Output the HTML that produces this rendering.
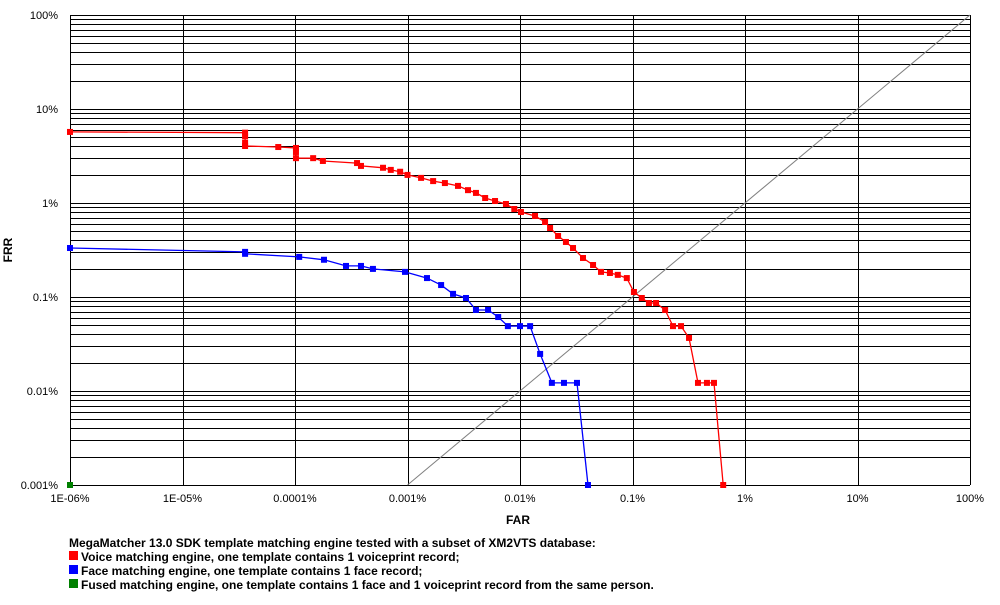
<!DOCTYPE html>
<html><head><meta charset="utf-8"><style>
body{margin:0;background:#fff;}
svg text{font-family:"Liberation Sans",Arial,sans-serif;}
</style></head><body>
<svg id="chart" width="1000" height="600" xmlns="http://www.w3.org/2000/svg">
<g id="grid"></g>
<line id="diag" stroke="#808080" stroke-width="1"/>
<g id="series"></g>
<g id="ticks"></g>
<text x="12" y="250" font-size="12" font-weight="bold" text-anchor="middle" transform="rotate(-90 12 250)">FRR</text>
<text x="518" y="524" font-size="12" font-weight="bold" text-anchor="middle">FAR</text>
<g font-size="12" font-weight="bold">
<text x="69" y="547">MegaMatcher 13.0 SDK template matching engine tested with a subset of XM2VTS database:</text>
<rect x="69" y="551" width="9" height="9" fill="#ff0000"/>
<text x="81" y="561">Voice matching engine, one template contains 1 voiceprint record;</text>
<rect x="69" y="565" width="9" height="9" fill="#0000ff"/>
<text x="81" y="575">Face matching engine, one template contains 1 face record;</text>
<rect x="69" y="579" width="9" height="9" fill="#008000"/>
<text x="81" y="589">Fused matching engine, one template contains 1 face and 1 voiceprint record from the same person.</text>
</g>
</svg>
<script>
const xTicks=["1E-06%","1E-05%","0.0001%","0.001%","0.01%","0.1%","1%","10%","100%"];
const yTicks=["100%","10%","1%","0.1%","0.01%","0.001%"];
const voiceFAR=[1e-6,3.6e-5,3.6e-5,3.6e-5,3.6e-5,7.1e-5,1.02e-4,1.02e-4,1.02e-4,1.45e-4,1.77e-4,3.56e-4,3.86e-4,6.06e-4,7.1e-4,8.6e-4,1e-3,1.32e-3,1.69e-3,2.15e-3,2.81e-3,3.45e-3,4.06e-3,4.9e-3,6e-3,7.5e-3,8.9e-3,1.02e-2,1.36e-2,1.67e-2,1.85e-2,2.18e-2,2.56e-2,2.96e-2,3.63e-2,4.46e-2,5.25e-2,6.3e-2,7.4e-2,8.9e-2,0.103,0.121,0.14,0.162,0.195,0.229,0.27,0.318,0.382,0.459,0.53,0.64];
const voiceFRR=[5.7,5.6,5.1,4.35,4.04,3.94,3.85,3.49,3.0,3.0,2.8,2.66,2.48,2.37,2.25,2.15,1.99,1.85,1.71,1.63,1.52,1.37,1.28,1.13,1.05,0.976,0.863,0.802,0.728,0.628,0.542,0.446,0.385,0.332,0.26,0.219,0.185,0.18,0.172,0.159,0.113,0.0976,0.0863,0.0863,0.0728,0.049,0.049,0.0367,0.0122,0.0122,0.0122,0.001];
const faceFAR=[1e-6,3.6e-5,3.6e-5,1.09e-4,1.81e-4,2.84e-4,3.86e-4,4.93e-4,9.5e-4,1.49e-3,1.99e-3,2.54e-3,3.31e-3,4.06e-3,5.2e-3,6.4e-3,7.8e-3,0.01,1.23e-2,1.51e-2,1.92e-2,2.46e-2,3.21e-2,4.02e-2];
const faceFRR=[0.332,0.302,0.288,0.267,0.249,0.214,0.214,0.199,0.185,0.159,0.134,0.108,0.0976,0.0728,0.0728,0.0612,0.049,0.049,0.049,0.0248,0.0122,0.0122,0.0122,0.001];
const fusedFAR=[1e-6];
const fusedFRR=[0.001];
const X0=70,X1=970,Y0=15,Y1=485;
const xs=v=>X0+(Math.log10(v)+6)*(X1-X0)/8;
const ys=v=>Y0+(2-Math.log10(v))*(Y1-Y0)/5;
const NS="http://www.w3.org/2000/svg";
function mk(t,a,p){const e=document.createElementNS(NS,t);for(const k in a)e.setAttribute(k,a[k]);p.appendChild(e);return e;}
const grid=document.getElementById('grid');
for(let d=0;d<=8;d++){const x=Math.round(X0+d*(X1-X0)/8)+0.5;
const l=mk('line',{x1:x,x2:x,y1:Y0,y2:Y1,stroke:'#000'},grid);

}
for(let e=-3;e<2;e++){for(let m=1;m<=9;m++){const y=Math.round(ys(m*Math.pow(10,e)))+0.5;
const l=mk('line',{x1:X0,x2:X1,y1:y,y2:y,stroke:'#000'},grid);

}}
{const y=Y0+0.5;const l=mk('line',{x1:X0,x2:X1,y1:y,y2:y,stroke:'#000'},grid);

}
const dg=document.getElementById('diag');
dg.setAttribute('x1',xs(1e-3));dg.setAttribute('y1',ys(1e-3));dg.setAttribute('x2',xs(100));dg.setAttribute('y2',ys(100));
const tk=document.getElementById('ticks');
xTicks.forEach((t,i)=>{const e=mk('text',{x:X0+i*(X1-X0)/8,y:502,'font-size':11,'text-anchor':'middle'},tk);e.textContent=t;

});
yTicks.forEach((t,i)=>{const e=mk('text',{x:58,y:Y0+i*(Y1-Y0)/5+4,'font-size':11,'text-anchor':'end'},tk);e.textContent=t;

});
const ser=document.getElementById('series');
function draw(name,fx,fy,col){const g=mk('g',{},ser);


const pts=fx.map((v,i)=>xs(v).toFixed(1)+','+ys(fy[i]).toFixed(1)).join(' ');
const pl=mk('polyline',{points:pts,fill:'none',stroke:col,'stroke-width':1.3},g);


fx.forEach((v,i)=>{const r=mk('rect',{x:xs(v)-3,y:ys(fy[i])-3,width:6,height:6,fill:col},g);

});}
draw('voice',voiceFAR,voiceFRR,'#ff0000');
draw('face',faceFAR,faceFRR,'#0000ff');
draw('fused',fusedFAR,fusedFRR,'#008000');
</script>
</body></html>
